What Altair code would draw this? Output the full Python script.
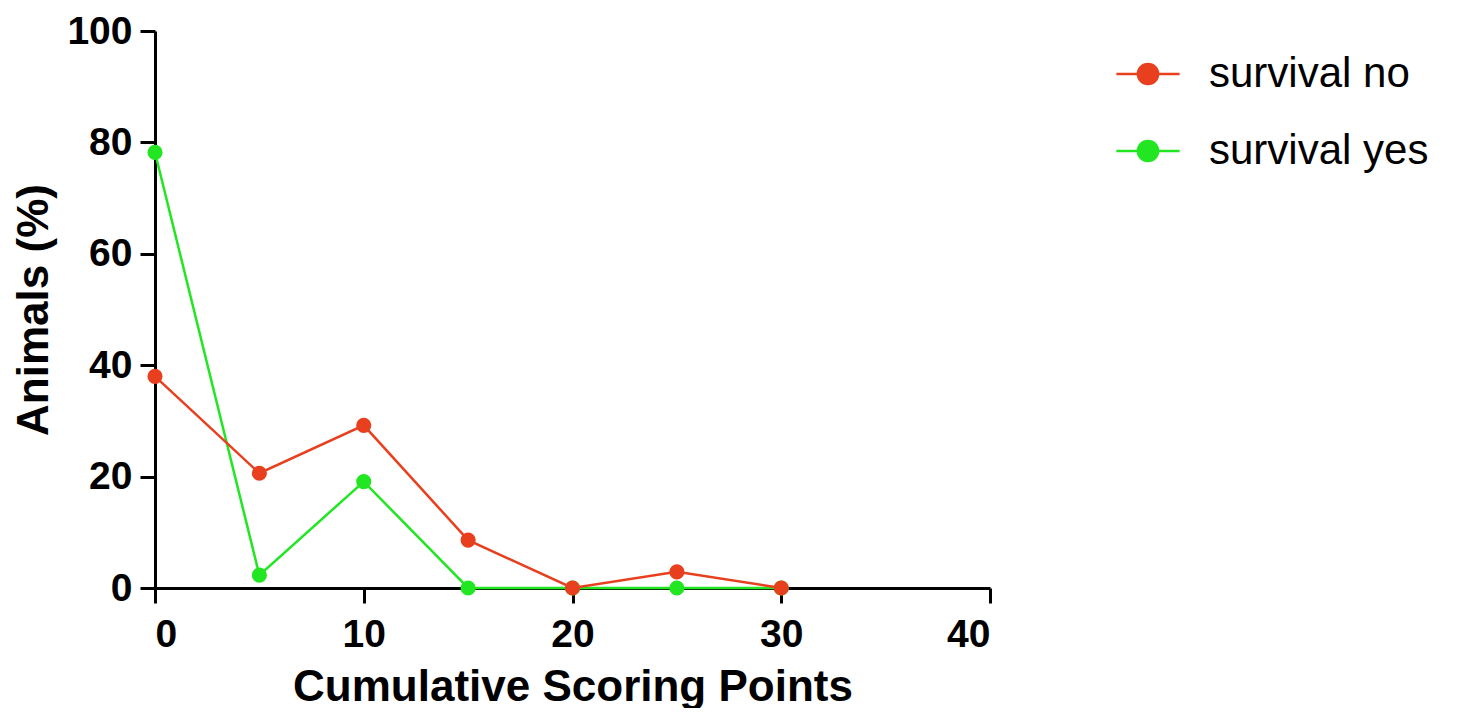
import altair as alt
import pandas as pd

x_points = [0, 5, 10, 15, 20, 25, 30]
survival_no = [38.0, 20.6, 29.2, 8.6, 0.0, 2.9, 0.0]
survival_yes = [78.2, 2.3, 19.1, 0.0, 0.0, 0.0, 0.0]
series_names = ["survival no", "survival yes"]
series_colors = ["#E8401F", "#22E622"]
x_ticks = [0, 10, 20, 30, 40]
y_ticks = [0, 20, 40, 60, 80, 100]

rows = []
for x, v in zip(x_points, survival_yes):
    rows.append({"score": x, "pct": v, "group": "survival yes"})
for x, v in zip(x_points, survival_no):
    rows.append({"score": x, "pct": v, "group": "survival no"})
df = pd.DataFrame(rows)

FONT = "Liberation Sans"

legend = alt.Legend(
    title=None,
    orient="none",
    legendX=960,
    legendY=10,
    symbolType="M-1,0L1,0M0.32,0A0.32,0.32 0 1,1 -0.32,0A0.32,0.32 0 1,1 0.32,0Z",
    symbolSize=4000,
    symbolStrokeWidth=2.5,
    labelFont=FONT,
    labelFontSize=42,
    labelColor="black",
    labelOffset=28,
    padding=0,
    labelLimit=600,
)

base = alt.Chart(df).encode(
    x=alt.X(
        "score:Q",
        scale=alt.Scale(domain=[0, 40], nice=False),
        axis=alt.Axis(values=x_ticks, title="Cumulative Scoring Points",
                      labelPadding=12, titlePadding=11),
    ),
    y=alt.Y(
        "pct:Q",
        scale=alt.Scale(domain=[0, 100], nice=False),
        axis=alt.Axis(values=y_ticks, title="Animals (%)",
                      labelPadding=8, titlePadding=10),
    ),
    color=alt.Color(
        "group:N",
        scale=alt.Scale(domain=series_names, range=series_colors),
        legend=legend,
    ),
)

lines = base.mark_line(strokeWidth=2.5)
points = base.mark_circle(size=230, opacity=1)

chart = (
    alt.layer(lines, points)
    .properties(
        width=835,
        height=557,
        autosize=alt.AutoSizeParams(type="none"),
        padding={"left": 147, "top": 23, "right": 440, "bottom": 120},
    )
    .configure_view(stroke=None)
    .configure_legend(rowPadding=23)
    .configure_axis(
        grid=False,
        domainColor="black",
        domainWidth=3,
        tickColor="black",
        tickWidth=3,
        tickSize=15,
        labelFont=FONT,
        labelFontWeight="bold",
        labelFontSize=39,
        labelColor="black",
        titleFont=FONT,
        titleFontWeight="bold",
        titleFontSize=44,
        titleColor="black",
    )
)

chart.save("out.html", embed_options={"renderer": "svg", "actions": False})
